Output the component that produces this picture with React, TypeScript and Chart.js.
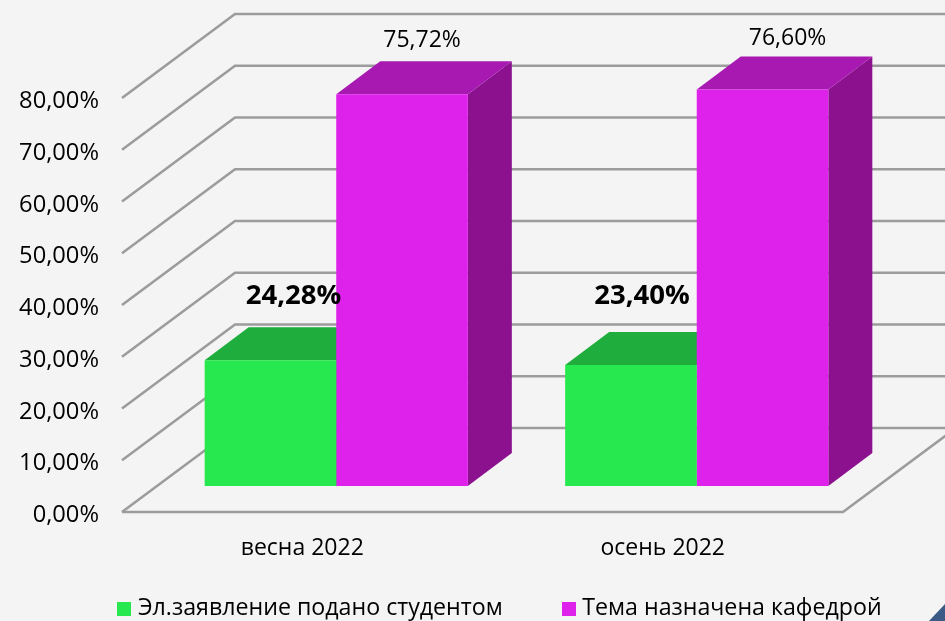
import React, { useEffect, useRef } from "react";
import { Chart, registerables } from "chart.js";

Chart.register(...registerables);

const categories = ["весна 2022", "осень 2022"];
const seriesNames = ["Эл.заявление подано студентом", "Тема назначена кафедрой"];
const applicationValues = [24.28, 23.4];
const departmentValues = [75.72, 76.6];

const FONT = '"Open Sans", sans-serif';
const COLORS = [
  { front: "#27E84E", top: "#1FAE3D", side: "#178A30" },
  { front: "#DE22EC", top: "#A719B1", side: "#8B118F" },
];
// 3D projection: wall depth, bar front offset from axis plane, bar depth
const WALL = { dx: 113, dy: -84 };
const SHIFT = { dx: 34, dy: -26 };
const DEPTH = { dx: 44, dy: -33 };
const LABEL_OFFSETS = [
  [{ dx: 57, dy: -90 }, { dx: 45, dy: -95 }],
  [{ dx: 54, dy: -80 }, { dx: 59, dy: -77 }],
];
const LEGEND_BAND = 35;
const LEGEND_LEFT = -41;
const LEGEND_RIGHT = 1045;

const pct = (v: number) => v.toFixed(2).replace(".", ",") + "%";

const poly = (ctx: CanvasRenderingContext2D, pts: number[][], fill: string) => {
  ctx.beginPath();
  pts.forEach((p, i) => (i ? ctx.lineTo(p[0], p[1]) : ctx.moveTo(p[0], p[1])));
  ctx.closePath();
  ctx.fillStyle = fill;
  ctx.fill();
};

const swatch = (color: string) => {
  const c = document.createElement("canvas");
  c.width = 14;
  c.height = 14;
  const g = c.getContext("2d")!;
  g.fillStyle = color;
  g.fillRect(0, 0, 14, 14);
  return c;
};

const threeD = {
  id: "threeD",
  beforeLayout(chart: any) {
    const lg = chart.legend;
    if (lg && !lg.__wrapped) {
      lg.__wrapped = true;
      const fit = lg.fit;
      lg.fit = function () {
        fit.call(this);
        this.height = LEGEND_BAND;
      };
    }
  },
  beforeDraw(chart: any) {
    const lg = chart.legend;
    lg.left = LEGEND_LEFT;
    lg.right = LEGEND_RIGHT;
    lg.top = chart.height - LEGEND_BAND - 53;
  },
  beforeDatasetsDraw(chart: any) {
    const { ctx, chartArea: a, scales } = chart;
    ctx.save();
    ctx.strokeStyle = "#9C9C9C";
    ctx.lineWidth = 2.6;
    ctx.lineJoin = "miter";
    scales.y.ticks.forEach((t: any) => {
      const y = scales.y.getPixelForValue(t.value);
      ctx.beginPath();
      ctx.moveTo(a.left, y);
      ctx.lineTo(a.left + WALL.dx, y + WALL.dy);
      ctx.lineTo(chart.width + 10, y + WALL.dy);
      ctx.stroke();
    });
    ctx.beginPath();
    ctx.moveTo(a.left, a.bottom);
    ctx.lineTo(a.right, a.bottom);
    ctx.lineTo(a.right + WALL.dx, a.bottom + WALL.dy);
    ctx.stroke();
    [0, 1].forEach((di) => {
      chart.getDatasetMeta(di).data.forEach((bar: any) => {
        const p = bar.getProps(["x", "y", "base", "width"], true);
        const l = p.x - p.width / 2 + SHIFT.dx;
        const r = p.x + p.width / 2 + SHIFT.dx;
        const t = p.y + SHIFT.dy;
        const b = p.base + SHIFT.dy;
        poly(ctx, [[r, t], [r + DEPTH.dx, t + DEPTH.dy], [r + DEPTH.dx, b + DEPTH.dy], [r, b]], COLORS[di].side);
        poly(ctx, [[l, t], [r, t], [r + DEPTH.dx, t + DEPTH.dy], [l + DEPTH.dx, t + DEPTH.dy]], COLORS[di].top);
      });
    });
    ctx.restore();
  },
  beforeDatasetDraw(chart: any) {
    chart.ctx.save();
    chart.ctx.translate(SHIFT.dx, SHIFT.dy);
  },
  afterDatasetDraw(chart: any) {
    chart.ctx.restore();
  },
  afterDatasetsDraw(chart: any) {
    const { ctx } = chart;
    ctx.save();
    ctx.fillStyle = "#000";
    ctx.textAlign = "center";
    ctx.textBaseline = "middle";
    [0, 1].forEach((di) => {
      ctx.font = di === 0 ? `bold 27.5px ${FONT}` : `23px ${FONT}`;
      chart.getDatasetMeta(di).data.forEach((bar: any, i: number) => {
        const o = LABEL_OFFSETS[di][i];
        ctx.fillText(pct(chart.data.datasets[di].data[i]), bar.x + o.dx, bar.y + o.dy);
      });
    });
    poly(ctx, [[chart.width, 604], [chart.width, chart.height], [929, chart.height]], "#3C5A86");
    ctx.restore();
  },
};

export default function App() {
  const ref = useRef<HTMLCanvasElement>(null);
  useEffect(() => {
    document.body.style.margin = "0";
    document.body.style.background = "#F4F4F4";
    const chart = new Chart(ref.current!, {
      type: "bar",
      data: {
        labels: categories,
        datasets: [
          { label: seriesNames[0], data: applicationValues, backgroundColor: COLORS[0].front, clip: false as any },
          { label: seriesNames[1], data: departmentValues, backgroundColor: COLORS[1].front, clip: false as any },
        ],
      },
      options: {
        animation: false,
        responsive: false,
        layout: { padding: { top: 98, left: 0, right: 0, bottom: 0 } },
        categoryPercentage: 0.73,
        barPercentage: 1,
        scales: {
          x: {
            grid: { display: false, drawTicks: false },
            border: { display: false },
            ticks: { padding: 23, color: "#000", font: { family: FONT, size: 23 }, maxRotation: 0 },
            afterFit: (s: any) => { s.height = 621 - 512 - LEGEND_BAND; },
          },
          y: {
            min: 0,
            max: 80,
            grid: { display: false, drawTicks: false },
            border: { display: false },
            ticks: { stepSize: 10, padding: 23, labelOffset: 3.5, color: "#000", font: { family: FONT, size: 23.7 }, callback: (v: any) => pct(Number(v)) },
            afterFit: (s: any) => { s.width = 122; },
          },
          spacer: {
            position: "right",
            grid: { display: false, drawTicks: false },
            border: { display: false },
            ticks: { display: false },
            afterFit: (s: any) => { s.width = 102; },
          },
        },
        plugins: {
          tooltip: { enabled: false },
          legend: {
            position: "bottom",
            labels: {
              usePointStyle: true,
              pointStyleWidth: 4,
              boxWidth: 14,
              boxHeight: 14,
              padding: 64,
              color: "#000",
              font: { family: FONT, size: 23.2 },
              generateLabels: (c: any) =>
                Chart.defaults.plugins.legend.labels.generateLabels(c).map((item: any, i: number) => ({
                  ...item,
                  pointStyle: swatch(COLORS[i].front),
                })),
            },
          },
        },
      } as any,
      plugins: [threeD],
    });
    return () => chart.destroy();
  }, []);
  return <canvas ref={ref} width={945} height={621} style={{ display: "block", background: "#F4F4F4" }} />;
}
